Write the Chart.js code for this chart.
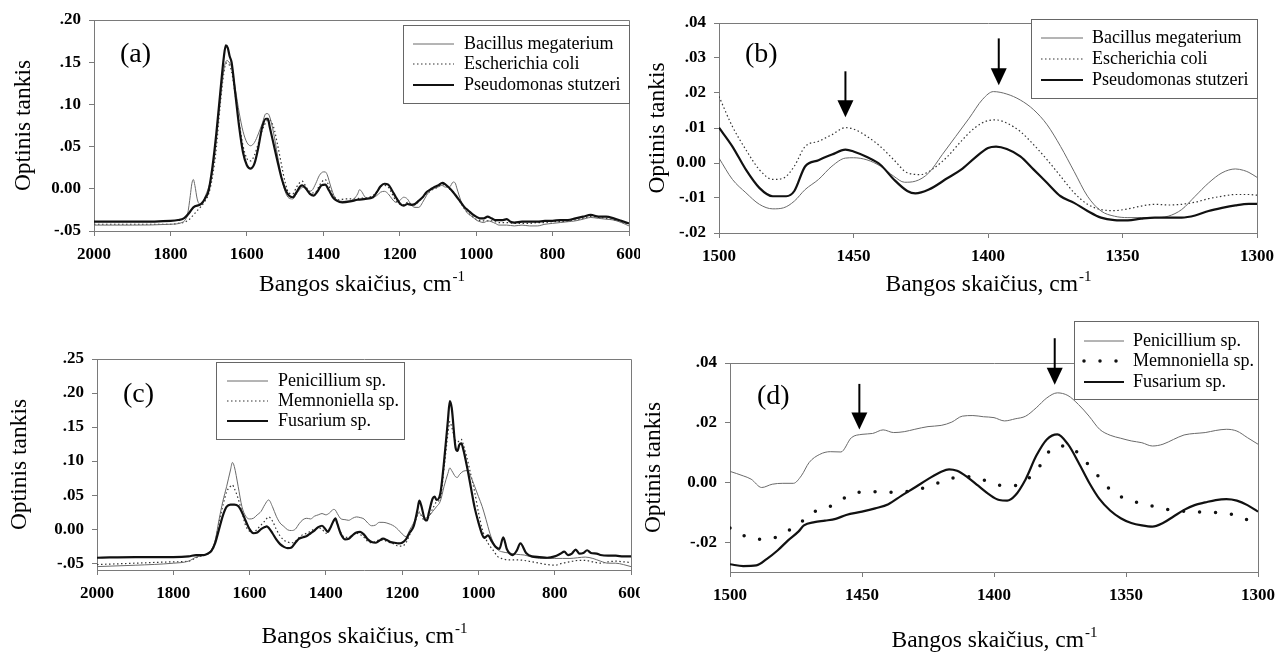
<!DOCTYPE html>
<html lang="lt">
<head>
<meta charset="utf-8">
<title>FTIR spektrai</title>
<script src="https://cdn.jsdelivr.net/npm/chart.js@4.4.1/dist/chart.umd.min.js"></script>
<style>
  html, body { margin: 0; padding: 0; background: #fff; }
  body { width: 1276px; height: 652px; position: relative; overflow: hidden; }
  canvas { position: absolute; }
  #panelA { left: 0; top: 0; }
  #panelB { left: 640px; top: 0; }
  #panelC { left: 0; top: 320px; }
  #panelD { left: 640px; top: 320px; }
</style>
</head>
<body>
<canvas id="panelA" width="640" height="310"></canvas>
<canvas id="panelB" width="636" height="310"></canvas>
<canvas id="panelC" width="640" height="332"></canvas>
<canvas id="panelD" width="636" height="332"></canvas>

<script>
// ====================================================
//  DATA  ([wavenumber cm-1, optical density])
// ====================================================

// (a) bacteria, full range
const bacillusA = [[2000,-0.043],[1900,-0.043],[1800,-0.042],[1770,-0.040],[1760,-0.036],[1755,-0.030],[1748,-0.008],[1744,0.006],[1740,0.011],[1736,0.004],[1730,-0.012],[1724,-0.018],[1718,-0.018],[1710,-0.010],[1700,0.002],[1690,0.020],[1680,0.058],[1670,0.103],[1660,0.142],[1652,0.152],[1645,0.149],[1640,0.144],[1630,0.118],[1620,0.090],[1610,0.068],[1600,0.055],[1590,0.051],[1580,0.055],[1570,0.065],[1560,0.077],[1550,0.089],[1545,0.089],[1540,0.085],[1530,0.066],[1520,0.040],[1510,0.015],[1500,-0.003],[1490,-0.011],[1480,-0.012],[1470,-0.006],[1460,0.000],[1450,0.002],[1440,-0.003],[1430,-0.002],[1420,0.006],[1410,0.016],[1400,0.020],[1395,0.020],[1390,0.017],[1380,0.002],[1370,-0.010],[1360,-0.014],[1340,-0.015],[1320,-0.012],[1310,-0.006],[1305,-0.001],[1300,-0.003],[1290,-0.010],[1280,-0.011],[1260,-0.008],[1250,-0.004],[1240,-0.003],[1230,-0.006],[1220,-0.012],[1210,-0.016],[1200,-0.014],[1190,-0.010],[1180,-0.012],[1170,-0.019],[1160,-0.022],[1150,-0.022],[1140,-0.016],[1130,-0.008],[1120,-0.002],[1100,0.002],[1090,0.004],[1080,0.002],[1070,0.002],[1060,0.008],[1055,0.007],[1050,0.000],[1040,-0.014],[1030,-0.024],[1020,-0.030],[1010,-0.033],[1000,-0.037],[990,-0.039],[980,-0.040],[970,-0.038],[960,-0.039],[950,-0.041],[940,-0.043],[920,-0.043],[900,-0.044],[880,-0.043],[860,-0.044],[840,-0.044],[820,-0.042],[800,-0.041],[780,-0.040],[760,-0.039],[740,-0.038],[720,-0.036],[700,-0.034],[680,-0.035],[660,-0.036],[640,-0.037],[620,-0.040],[600,-0.044]];
const escherichiaA = [[2000,-0.042],[1900,-0.042],[1800,-0.042],[1780,-0.041],[1760,-0.039],[1750,-0.036],[1740,-0.031],[1730,-0.026],[1720,-0.021],[1710,-0.015],[1700,-0.006],[1690,0.014],[1680,0.048],[1670,0.098],[1660,0.138],[1654,0.149],[1648,0.148],[1640,0.139],[1630,0.110],[1620,0.078],[1610,0.051],[1600,0.036],[1590,0.033],[1580,0.040],[1570,0.054],[1560,0.069],[1550,0.079],[1542,0.082],[1530,0.073],[1520,0.053],[1510,0.030],[1500,0.008],[1490,-0.005],[1480,-0.006],[1470,0.002],[1460,0.008],[1455,0.009],[1450,0.006],[1440,-0.001],[1430,-0.005],[1420,-0.004],[1410,0.004],[1400,0.010],[1395,0.011],[1390,0.008],[1380,-0.002],[1370,-0.010],[1360,-0.013],[1340,-0.012],[1320,-0.012],[1300,-0.011],[1280,-0.010],[1260,-0.004],[1250,0.003],[1240,0.004],[1230,0.002],[1220,-0.006],[1210,-0.014],[1200,-0.018],[1190,-0.019],[1180,-0.016],[1170,-0.018],[1160,-0.019],[1150,-0.015],[1140,-0.010],[1130,-0.006],[1120,-0.003],[1110,0.000],[1100,0.002],[1090,0.005],[1080,0.004],[1070,0.000],[1060,-0.004],[1050,-0.010],[1040,-0.017],[1030,-0.024],[1020,-0.029],[1010,-0.033],[1000,-0.036],[980,-0.038],[960,-0.038],[940,-0.040],[920,-0.040],[900,-0.041],[880,-0.041],[860,-0.041],[840,-0.040],[820,-0.040],[800,-0.039],[780,-0.039],[760,-0.038],[740,-0.037],[720,-0.035],[700,-0.033],[680,-0.034],[660,-0.035],[640,-0.037],[620,-0.039],[600,-0.042]];
const pseudomonasA = [[2000,-0.039],[1900,-0.039],[1800,-0.038],[1780,-0.037],[1765,-0.035],[1750,-0.028],[1740,-0.022],[1720,-0.018],[1710,-0.012],[1700,-0.002],[1690,0.026],[1680,0.065],[1670,0.112],[1660,0.157],[1655,0.170],[1650,0.167],[1645,0.157],[1640,0.150],[1630,0.112],[1620,0.073],[1610,0.043],[1600,0.028],[1590,0.024],[1580,0.030],[1570,0.049],[1560,0.073],[1550,0.083],[1545,0.083],[1540,0.073],[1530,0.053],[1520,0.033],[1510,0.014],[1500,0.000],[1490,-0.008],[1480,-0.010],[1470,-0.004],[1460,0.003],[1455,0.004],[1445,0.000],[1435,-0.006],[1425,-0.008],[1415,-0.003],[1405,0.004],[1395,0.005],[1385,-0.002],[1375,-0.010],[1365,-0.014],[1350,-0.016],[1330,-0.015],[1310,-0.013],[1290,-0.012],[1270,-0.010],[1260,-0.004],[1250,0.003],[1240,0.006],[1230,0.005],[1220,-0.002],[1210,-0.010],[1200,-0.017],[1190,-0.020],[1180,-0.018],[1170,-0.019],[1160,-0.018],[1150,-0.014],[1140,-0.010],[1130,-0.004],[1120,-0.001],[1110,0.002],[1100,0.004],[1088,0.007],[1080,0.005],[1070,0.001],[1060,-0.004],[1050,-0.010],[1040,-0.016],[1030,-0.022],[1020,-0.026],[1010,-0.030],[1000,-0.033],[990,-0.035],[980,-0.035],[970,-0.033],[960,-0.035],[950,-0.037],[940,-0.037],[930,-0.037],[920,-0.036],[910,-0.039],[900,-0.040],[880,-0.039],[860,-0.039],[840,-0.039],[820,-0.038],[800,-0.038],[780,-0.037],[760,-0.037],[740,-0.035],[720,-0.033],[700,-0.031],[680,-0.033],[660,-0.033],[640,-0.035],[620,-0.038],[600,-0.041]];

// (b) bacteria, 1500-1300
const bacillusB = [[1500,0.0014],[1495,-0.0047],[1490,-0.0085],[1485,-0.0118],[1480,-0.0131],[1476,-0.0128],[1472,-0.0109],[1468,-0.0076],[1463,-0.0047],[1458,-0.0009],[1453,0.0014],[1450,0.0015],[1445,0.0009],[1440,-0.0009],[1435,-0.0038],[1431,-0.0055],[1427,-0.0052],[1422,-0.0028],[1417,0.0024],[1412,0.0076],[1407,0.0128],[1402,0.0182],[1398,0.0204],[1393,0.0197],[1388,0.018],[1383,0.0152],[1378,0.0109],[1373,0.0047],[1368,-0.0024],[1363,-0.0095],[1358,-0.0137],[1353,-0.0152],[1348,-0.0156],[1343,-0.0156],[1338,-0.0156],[1333,-0.0152],[1328,-0.0133],[1323,-0.0095],[1318,-0.0057],[1313,-0.0028],[1308,-0.0017],[1305,-0.0021],[1303,-0.0027],[1300,-0.0041]];
const escherichiaB = [[1500,0.019],[1495,0.0104],[1490,0.0038],[1485,-0.0019],[1480,-0.0047],[1476,-0.0043],[1472,-0.0009],[1468,0.0047],[1463,0.0062],[1458,0.0081],[1453,0.0101],[1450,0.0097],[1445,0.0076],[1440,0.0047],[1435,0.0009],[1430,-0.0028],[1425,-0.0033],[1420,-0.0014],[1415,0.0019],[1410,0.0062],[1405,0.01],[1400,0.0121],[1397,0.0123],[1393,0.0114],[1388,0.009],[1383,0.0052],[1378,0.0009],[1373,-0.0038],[1368,-0.0085],[1363,-0.0118],[1358,-0.0133],[1353,-0.0136],[1348,-0.0131],[1343,-0.0123],[1338,-0.0118],[1333,-0.012],[1328,-0.0118],[1323,-0.0112],[1318,-0.0102],[1313,-0.0095],[1308,-0.009],[1303,-0.009],[1300,-0.0092]];
const pseudomonasB = [[1500,0.0101],[1495,0.0047],[1490,-0.0019],[1485,-0.0071],[1480,-0.0095],[1475,-0.0095],[1472,-0.008],[1468,-0.001],[1463,0.0008],[1458,0.0024],[1453,0.0038],[1450,0.0033],[1445,0.0017],[1440,-0.0005],[1435,-0.0047],[1430,-0.008],[1427,-0.0087],[1422,-0.0076],[1415,-0.0043],[1410,-0.0019],[1405,0.0014],[1400,0.0043],[1397,0.0047],[1393,0.004],[1388,0.0019],[1383,-0.0019],[1378,-0.0057],[1373,-0.0095],[1368,-0.0114],[1363,-0.0137],[1358,-0.0156],[1353,-0.0163],[1348,-0.0164],[1343,-0.0159],[1338,-0.0156],[1333,-0.0156],[1328,-0.0156],[1323,-0.015],[1318,-0.0137],[1313,-0.0128],[1308,-0.0121],[1303,-0.0117],[1300,-0.0117]];

// (c) fungi, full range
const penicilliumC = [[2000,-0.055],[1900,-0.053],[1800,-0.050],[1760,-0.047],[1740,-0.041],[1720,-0.038],[1700,-0.030],[1690,-0.016],[1680,0.014],[1670,0.041],[1660,0.063],[1650,0.087],[1645,0.098],[1640,0.092],[1630,0.063],[1620,0.033],[1610,0.019],[1600,0.015],[1590,0.016],[1580,0.021],[1570,0.026],[1560,0.036],[1550,0.043],[1540,0.033],[1530,0.019],[1520,0.009],[1510,0.004],[1500,-0.001],[1490,-0.002],[1480,0.000],[1470,0.008],[1460,0.014],[1450,0.016],[1440,0.015],[1430,0.019],[1420,0.021],[1410,0.023],[1400,0.021],[1390,0.024],[1380,0.029],[1375,0.028],[1370,0.023],[1360,0.015],[1350,0.014],[1340,0.013],[1330,0.016],[1320,0.018],[1310,0.017],[1300,0.015],[1290,0.009],[1280,0.005],[1270,0.006],[1260,0.010],[1250,0.010],[1240,0.009],[1230,0.007],[1220,0.004],[1210,-0.001],[1200,-0.007],[1190,-0.011],[1180,-0.001],[1170,0.009],[1160,0.021],[1155,0.024],[1150,0.021],[1140,0.016],[1130,0.019],[1120,0.026],[1110,0.033],[1100,0.041],[1090,0.063],[1080,0.082],[1075,0.090],[1070,0.086],[1060,0.077],[1055,0.076],[1050,0.080],[1040,0.085],[1030,0.086],[1020,0.077],[1010,0.063],[1000,0.048],[990,0.033],[980,0.014],[970,-0.006],[960,-0.021],[950,-0.030],[940,-0.033],[920,-0.035],[900,-0.037],[880,-0.038],[860,-0.041],[840,-0.043],[820,-0.043],[800,-0.043],[780,-0.043],[760,-0.043],[740,-0.042],[720,-0.041],[700,-0.043],[680,-0.047],[660,-0.050],[640,-0.050],[620,-0.052],[600,-0.055]];
const memnoniellaC = [[2000,-0.052],[1900,-0.050],[1800,-0.048],[1760,-0.047],[1740,-0.042],[1720,-0.038],[1700,-0.032],[1690,-0.018],[1680,0.010],[1670,0.035],[1660,0.055],[1650,0.063],[1645,0.065],[1640,0.060],[1630,0.045],[1620,0.025],[1610,0.005],[1600,-0.003],[1590,-0.005],[1580,0.000],[1570,0.006],[1560,0.012],[1550,0.018],[1540,0.012],[1530,0.000],[1520,-0.010],[1510,-0.016],[1500,-0.019],[1490,-0.020],[1480,-0.018],[1470,-0.012],[1460,-0.008],[1450,-0.006],[1440,-0.003],[1430,0.000],[1420,0.002],[1410,0.000],[1400,-0.006],[1390,0.000],[1380,0.012],[1375,0.015],[1370,0.008],[1360,-0.006],[1350,-0.012],[1340,-0.012],[1330,-0.008],[1320,-0.006],[1310,-0.008],[1300,-0.012],[1290,-0.018],[1280,-0.020],[1270,-0.018],[1260,-0.016],[1250,-0.016],[1240,-0.018],[1230,-0.020],[1220,-0.022],[1210,-0.025],[1200,-0.025],[1190,-0.020],[1180,-0.008],[1170,0.005],[1160,0.020],[1155,0.025],[1150,0.020],[1140,0.012],[1130,0.018],[1120,0.030],[1110,0.040],[1100,0.045],[1090,0.090],[1080,0.140],[1075,0.158],[1070,0.150],[1060,0.130],[1055,0.128],[1050,0.130],[1045,0.132],[1040,0.125],[1030,0.105],[1020,0.080],[1010,0.055],[1000,0.025],[990,0.000],[980,-0.015],[970,-0.025],[960,-0.032],[950,-0.040],[940,-0.043],[920,-0.045],[900,-0.045],[880,-0.046],[860,-0.048],[840,-0.050],[820,-0.052],[800,-0.053],[780,-0.050],[760,-0.048],[740,-0.046],[720,-0.046],[700,-0.048],[680,-0.050],[660,-0.048],[640,-0.047],[620,-0.048],[600,-0.049]];
const fusariumC = [[2000,-0.042],[1900,-0.041],[1800,-0.041],[1760,-0.040],[1740,-0.038],[1720,-0.038],[1710,-0.036],[1700,-0.032],[1690,-0.020],[1680,0.000],[1670,0.020],[1660,0.033],[1650,0.036],[1640,0.036],[1630,0.034],[1620,0.025],[1610,0.012],[1600,0.000],[1590,-0.006],[1580,-0.005],[1570,0.000],[1560,0.003],[1555,0.004],[1550,0.002],[1540,-0.006],[1530,-0.015],[1520,-0.022],[1510,-0.026],[1500,-0.028],[1490,-0.027],[1480,-0.020],[1470,-0.014],[1460,-0.012],[1450,-0.010],[1440,-0.006],[1430,-0.002],[1420,0.003],[1410,0.005],[1400,-0.001],[1395,-0.004],[1390,0.000],[1380,0.012],[1375,0.016],[1370,0.008],[1360,-0.008],[1350,-0.015],[1340,-0.014],[1330,-0.009],[1320,-0.005],[1310,-0.004],[1300,-0.008],[1290,-0.015],[1280,-0.019],[1270,-0.020],[1260,-0.017],[1250,-0.014],[1240,-0.016],[1230,-0.019],[1220,-0.020],[1210,-0.021],[1200,-0.020],[1190,-0.015],[1180,-0.005],[1170,0.004],[1160,0.028],[1155,0.042],[1150,0.035],[1140,0.014],[1135,0.013],[1130,0.024],[1120,0.045],[1115,0.048],[1110,0.043],[1100,0.052],[1090,0.100],[1080,0.160],[1075,0.188],[1070,0.178],[1060,0.120],[1055,0.115],[1050,0.124],[1045,0.126],[1040,0.118],[1030,0.092],[1020,0.062],[1010,0.032],[1000,0.010],[990,-0.008],[985,-0.013],[975,-0.009],[965,-0.018],[955,-0.026],[945,-0.029],[935,-0.012],[925,-0.030],[910,-0.038],[900,-0.032],[890,-0.021],[875,-0.035],[860,-0.040],[840,-0.041],[820,-0.042],[800,-0.040],[785,-0.036],[775,-0.033],[765,-0.038],[755,-0.036],[745,-0.030],[735,-0.036],[725,-0.035],[715,-0.031],[705,-0.035],[690,-0.036],[680,-0.038],[660,-0.039],[640,-0.039],[620,-0.040],[600,-0.040]];

// (d) fungi, 1500-1300
const penicilliumD = [[1500,0.0037],[1495,0.0022],[1492,0.0011],[1488,-0.0017],[1484,-0.0006],[1480,-0.0003],[1476,-0.0003],[1473,0.0022],[1470,0.0067],[1466,0.0094],[1462,0.0103],[1458,0.0102],[1454,0.015],[1450,0.0161],[1446,0.0164],[1442,0.0176],[1438,0.0167],[1434,0.017],[1430,0.0178],[1425,0.0187],[1420,0.0191],[1416,0.0202],[1412,0.0222],[1408,0.0224],[1404,0.022],[1400,0.0217],[1396,0.0206],[1392,0.0213],[1388,0.0222],[1384,0.025],[1380,0.0283],[1376,0.03],[1372,0.0291],[1368,0.0261],[1364,0.0222],[1360,0.0178],[1356,0.0158],[1352,0.0148],[1348,0.0139],[1344,0.0133],[1340,0.0122],[1336,0.0128],[1332,0.0144],[1328,0.0159],[1324,0.0164],[1320,0.0167],[1316,0.0174],[1312,0.0178],[1308,0.0172],[1304,0.015],[1300,0.0128]];
const memnoniellaD = [[1500,-0.0153],[1492,-0.0187],[1486,-0.0191],[1480,-0.0172],[1474,-0.0139],[1468,-0.0098],[1461,-0.0076],[1455,-0.0044],[1449,-0.0031],[1443,-0.0031],[1437,-0.0033],[1430,-0.0026],[1424,-0.0011],[1418,0.0008],[1412,0.002],[1405,0.0011],[1399,-0.0008],[1393,-0.0011],[1387,0.0013],[1382,0.0063],[1378,0.0114],[1372,0.0122],[1366,0.0076],[1361,0.0026],[1356,-0.0024],[1350,-0.0056],[1344,-0.007],[1337,-0.0086],[1331,-0.0094],[1325,-0.0098],[1319,-0.01],[1312,-0.0103],[1306,-0.0119],[1300,-0.0138]];
const fusariumD = [[1500,-0.0274],[1495,-0.028],[1490,-0.0278],[1486,-0.0256],[1482,-0.0228],[1478,-0.0194],[1474,-0.0164],[1472,-0.0144],[1468,-0.0133],[1464,-0.0128],[1460,-0.0122],[1456,-0.0109],[1450,-0.0098],[1445,-0.0087],[1440,-0.0073],[1435,-0.0044],[1430,-0.0017],[1425,0.0011],[1420,0.0036],[1417,0.0044],[1414,0.0039],[1410,0.0017],[1406,-0.0011],[1402,-0.0039],[1398,-0.0059],[1395,-0.0061],[1392,-0.0044],[1388,0.0011],[1384,0.0089],[1380,0.0144],[1376,0.0161],[1372,0.0128],[1368,0.0067],[1364,0.0],[1360,-0.0056],[1356,-0.0094],[1352,-0.012],[1348,-0.0136],[1344,-0.0144],[1340,-0.0148],[1336,-0.0136],[1332,-0.0114],[1328,-0.0092],[1324,-0.0076],[1320,-0.0067],[1316,-0.0059],[1312,-0.0056],[1308,-0.0061],[1304,-0.0076],[1300,-0.0098]];

// y tick values
const yTicksA = [-0.05, 0, 0.05, 0.10, 0.15, 0.20];
const yTicksB = [-0.02, -0.01, 0, 0.01, 0.02, 0.03, 0.04];
const yTicksC = [-0.05, 0, 0.05, 0.10, 0.15, 0.20, 0.25];
const yTicksD = [-0.02, 0, 0.02, 0.04];

// marked bands: [wavenumber, arrow tail, arrow tip]
const arrowsB = [[1453, 0.0262, 0.0131], [1396, 0.0356, 0.0222]];
const arrowsD = [[1451, 0.0330, 0.0177], [1377, 0.0483, 0.0327]];

// ====================================================
//  STYLE
// ====================================================
const FAMILY = "'Liberation Serif', 'Times New Roman', serif";
const AXIS = '#7a7a7a';
const TITLE_SIZE = 23.5;

Chart.defaults.font.family = FAMILY;
Chart.defaults.color = '#000';

const lines = {
  thin:   { color: '#6a6a6a', width: 1 },
  dotted: { color: '#333', width: 1.2, dash: [1.5, 2.5] },
  thick:  { color: '#111', width: 2.2 },
  dots:   { color: '#111', width: 3.5, dash: [0, 16], cap: 'round' },
};

function tickLabel(v) {
  if (Math.abs(v) < 1e-9) return '0.00';
  return v.toFixed(2).replace('0.', '.');
}

// frame, panel letter, x title with superscript, boxed legend and arrows
const panelExtras = {
  id: 'panelExtras',
  afterDraw(chart, args, o) {
    const { ctx, chartArea: a } = chart;
    const xs = chart.scales.x;
    const ys = chart.scales.y;
    ctx.save();

    ctx.strokeStyle = AXIS;
    ctx.lineWidth = 1;
    ctx.beginPath();
    ctx.moveTo(Math.round(a.left) + 0.5, Math.round(a.top) + 0.5);
    ctx.lineTo(Math.round(a.right) + 0.5, Math.round(a.top) + 0.5);
    ctx.lineTo(Math.round(a.right) + 0.5, Math.round(a.bottom) + 0.5);
    ctx.stroke();

    // panel letter
    ctx.fillStyle = '#000';
    ctx.textBaseline = 'middle';
    ctx.textAlign = 'left';
    ctx.font = '28px ' + FAMILY;
    ctx.fillText(o.letter, o.letterX, o.letterY);

    // x axis title
    const main = 'Bangos skaičius, cm';
    ctx.font = TITLE_SIZE + 'px ' + FAMILY;
    const wMain = ctx.measureText(main).width;
    ctx.font = '15px ' + FAMILY;
    const wSup = ctx.measureText('-1').width;
    const x0 = (a.left + a.right) / 2 - (wMain + wSup) / 2;
    ctx.font = TITLE_SIZE + 'px ' + FAMILY;
    ctx.fillText(main, x0, o.titleY);
    ctx.font = '15px ' + FAMILY;
    ctx.fillText('-1', x0 + wMain + 1, o.titleY - 8);

    // arrows
    (o.arrows || []).forEach(([w, from, to]) => {
      const x = xs.getPixelForValue(w);
      const y1 = ys.getPixelForValue(from);
      const y2 = ys.getPixelForValue(to);
      ctx.strokeStyle = '#000';
      ctx.lineWidth = 2;
      ctx.beginPath();
      ctx.moveTo(x, y1);
      ctx.lineTo(x, y2 - 15);
      ctx.stroke();
      ctx.fillStyle = '#000';
      ctx.beginPath();
      ctx.moveTo(x - 8, y2 - 17);
      ctx.lineTo(x + 8, y2 - 17);
      ctx.lineTo(x, y2);
      ctx.closePath();
      ctx.fill();
    });

    // legend
    const L = o.legend;
    ctx.fillStyle = '#fff';
    ctx.fillRect(L.x, L.y, L.w, L.h);
    ctx.strokeStyle = '#666';
    ctx.lineWidth = 1;
    ctx.strokeRect(L.x + 0.5, L.y + 0.5, L.w, L.h);
    ctx.font = '18px ' + FAMILY;
    chart.data.datasets.forEach((ds, i) => {
      const y = L.rows[i];
      ctx.save();
      ctx.strokeStyle = ds.borderColor;
      ctx.lineWidth = ds.borderWidth;
      ctx.setLineDash(ds.borderDash || []);
      ctx.lineCap = ds.borderCapStyle || 'butt';
      ctx.beginPath();
      ctx.moveTo(L.s1, y);
      ctx.lineTo(L.s2, y);
      ctx.stroke();
      ctx.restore();
      ctx.fillStyle = '#000';
      ctx.fillText(ds.label, L.tx, y);
    });

    ctx.restore();
  },
};

// ====================================================
//  CHARTS
// ====================================================
function drawPanel(id, cfg) {
  const canvas = document.getElementById(id);
  const axisGrid = { display: true, drawOnChartArea: false, drawTicks: true, tickLength: 5, color: AXIS };
  const tickFont = { size: 17, weight: 'bold' };

  new Chart(canvas.getContext('2d'), {
    type: 'line',
    data: {
      datasets: cfg.series.map((s, i) => ({
        label: s.label,
        data: s.points.map(([x, y]) => ({ x, y })),
        borderColor: s.style.color,
        borderWidth: s.style.width,
        borderDash: s.style.dash || [],
        borderCapStyle: s.style.cap || 'butt',
        pointRadius: 0,
        fill: false,
        cubicInterpolationMode: 'monotone',
        order: s.style === lines.thick ? 0 : i + 1,
      })),
    },
    options: {
      responsive: false,
      devicePixelRatio: 1,
      animation: false,
      events: [],
      layout: { autoPadding: false, padding: { top: cfg.top, right: cfg.right, bottom: 0, left: 0 } },
      plugins: {
        legend: { display: false },
        tooltip: { enabled: false },
        panelExtras: cfg.extras,
      },
      scales: {
        x: {
          type: 'linear',
          reverse: true,
          min: cfg.xMin,
          max: cfg.xMax,
          ticks: { stepSize: cfg.xStep, font: tickFont, color: '#000', padding: 8, maxRotation: 0, autoSkip: false, callback: (v) => String(v) },
          grid: axisGrid,
          border: { display: true, color: AXIS, width: 1 },
          afterFit: (s) => { s.height = cfg.xAxisH; s.paddingLeft = 0; s.paddingRight = 0; },
        },
        y: {
          min: cfg.yMin,
          max: cfg.yMax,
          afterBuildTicks: (s) => { s.ticks = cfg.yTicks.map((value) => ({ value })); },
          ticks: { font: tickFont, color: '#000', padding: 8, callback: tickLabel },
          grid: axisGrid,
          border: { display: true, color: AXIS, width: 1 },
          title: { display: true, text: 'Optinis tankis', color: '#000', font: { size: TITLE_SIZE, weight: 'normal' }, padding: { top: cfg.yTitlePad, bottom: 0 } },
          afterFit: (s) => { s.width = cfg.yAxisW; s.paddingTop = 0; s.paddingBottom = 0; },
        },
      },
    },
    plugins: [panelExtras],
  });
}

drawPanel('panelA', {
  series: [
    { label: 'Bacillus megaterium', points: bacillusA, style: lines.thin },
    { label: 'Escherichia coli', points: escherichiaA, style: lines.dotted },
    { label: 'Pseudomonas stutzeri', points: pseudomonasA, style: lines.thick },
  ],
  xMin: 600, xMax: 2000, xStep: 200,
  yMin: -0.05, yMax: 0.20, yTicks: yTicksA,
  top: 20, right: 11, yAxisW: 94, xAxisH: 79, yTitlePad: 10,
  extras: {
    letter: '(a)', letterX: 120, letterY: 55, titleY: 285,
    legend: { x: 403, y: 25, w: 226, h: 78, rows: [44, 64, 85], s1: 413, s2: 454, tx: 464 },
  },
});

drawPanel('panelB', {
  series: [
    { label: 'Bacillus megaterium', points: bacillusB, style: lines.thin },
    { label: 'Escherichia coli', points: escherichiaB, style: lines.dotted },
    { label: 'Pseudomonas stutzeri', points: pseudomonasB, style: lines.thick },
  ],
  xMin: 1300, xMax: 1500, xStep: 50,
  yMin: -0.02, yMax: 0.04, yTicks: yTicksB,
  top: 23, right: 19, yAxisW: 79, xAxisH: 77, yTitlePad: 4,
  extras: {
    letter: '(b)', letterX: 105, letterY: 55, titleY: 285,
    arrows: arrowsB,
    legend: { x: 391, y: 19, w: 226, h: 79, rows: [38, 59, 80], s1: 401, s2: 443, tx: 452 },
  },
});

drawPanel('panelC', {
  series: [
    { label: 'Penicillium sp.', points: penicilliumC, style: lines.thin },
    { label: 'Memnoniella sp.', points: memnoniellaC, style: lines.dotted },
    { label: 'Fusarium sp.', points: fusariumC, style: lines.thick },
  ],
  xMin: 600, xMax: 2000, xStep: 200,
  yMin: -0.06, yMax: 0.25, yTicks: yTicksC,
  top: 39, right: 9, yAxisW: 97, xAxisH: 82, yTitlePad: 6,
  extras: {
    letter: '(c)', letterX: 123, letterY: 75, titleY: 317,
    legend: { x: 216, y: 42, w: 188, h: 77, rows: [61, 81, 101], s1: 227, s2: 268, tx: 278 },
  },
});

drawPanel('panelD', {
  series: [
    { label: 'Penicillium sp.', points: penicilliumD, style: lines.thin },
    { label: 'Memnoniella sp.', points: memnoniellaD, style: lines.dots },
    { label: 'Fusarium sp.', points: fusariumD, style: lines.thick },
  ],
  xMin: 1300, xMax: 1500, xStep: 50,
  yMin: -0.03, yMax: 0.04, yTicks: yTicksD,
  top: 43, right: 18, yAxisW: 90, xAxisH: 80, yTitlePad: 0,
  extras: {
    letter: '(d)', letterX: 117, letterY: 77, titleY: 321,
    arrows: arrowsD,
    legend: { x: 434, y: 1, w: 184, h: 78, rows: [21, 41, 62], s1: 444, s2: 484, tx: 493 },
  },
});
</script>
</body>
</html>
